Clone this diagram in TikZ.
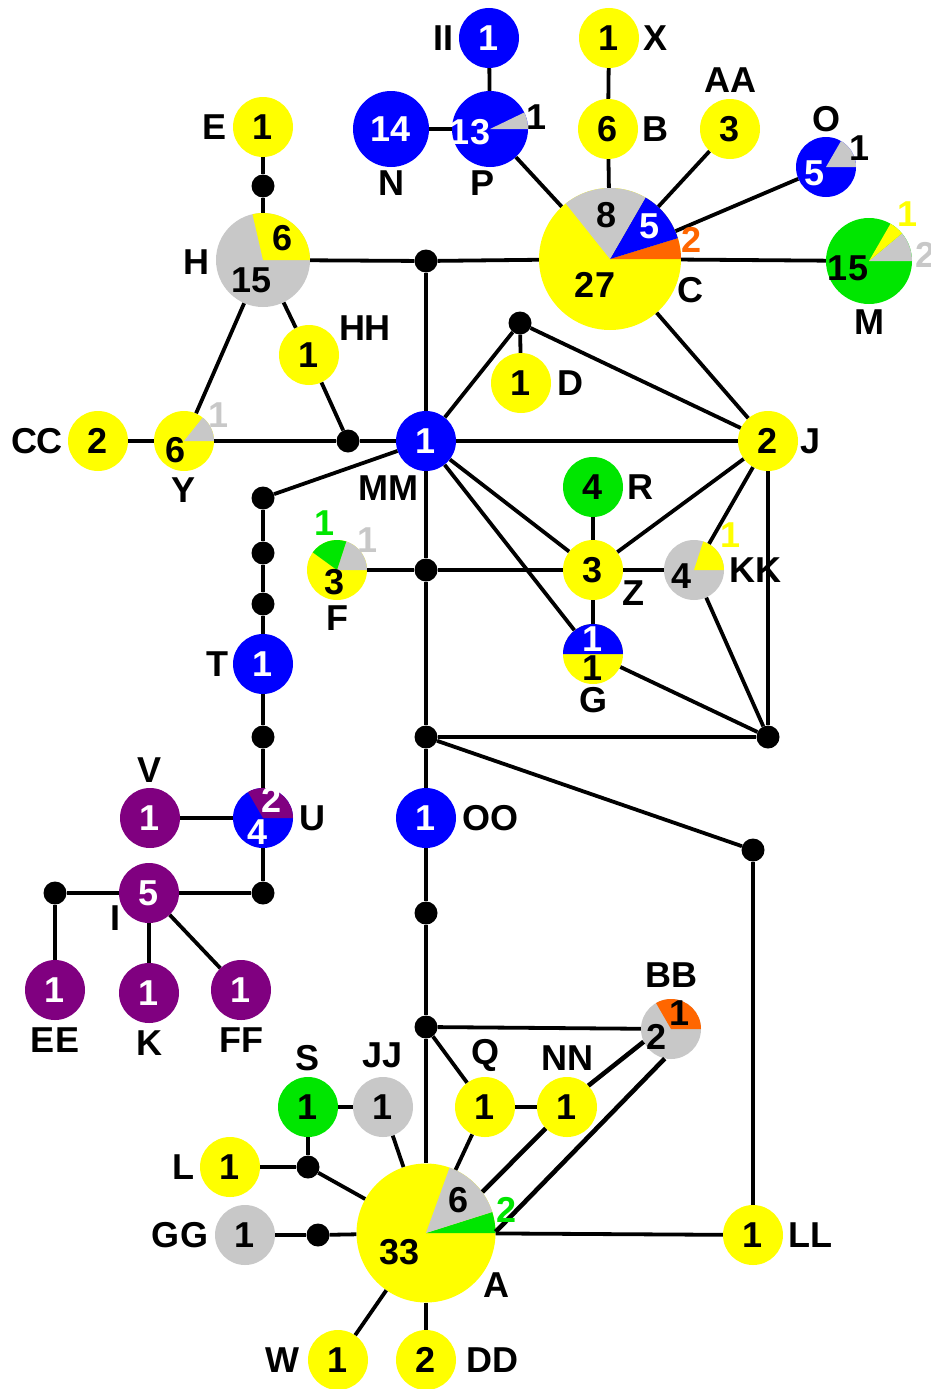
\documentclass[tikz,border=0pt]{standalone}
\usepackage{fontspec}
\setmainfont{Liberation Sans}
\definecolor{hy}{RGB}{255,255,0}
\definecolor{hb}{RGB}{0,0,255}
\definecolor{hg}{RGB}{0,230,0}
\definecolor{hgr}{RGB}{200,200,200}
\definecolor{hp}{RGB}{128,0,128}
\definecolor{ho}{RGB}{255,102,0}
\newcommand\labfont{\fontsize{36}{38}\selectfont\bfseries}
\newcommand\hsec[5]{\fill[#1] (#2) -- ++(#3:#5) arc[start angle=#3,end angle=#4,radius=#5] -- cycle;}
\tikzset{
  hap/.style={circle, inner sep=0pt, minimum size=60pt, font=\labfont},
  yel/.style={hap, fill=hy},
  blu/.style={hap, fill=hb, text=white},
  grn/.style={hap, fill=hg},
  gry/.style={hap, fill=hgr},
  pur/.style={hap, fill=hp, text=white},
  dotn/.style={circle, fill=black, inner sep=0pt, minimum size=23pt},
  edge/.style={line width=3.8pt},
  thickedge/.style={line width=4.6pt},
  lbl/.style={font=\labfont, inner sep=0pt}
}
\begin{document}
\begin{tikzpicture}[x=1pt,y=1pt]
\useasboundingbox (0,0) rectangle (930,-1389);
% haplotype nodes
\node[blu] (II) at (489,-38) {1};
\node[yel] (X) at (609,-38) {1};
\node[blu, minimum size=76pt] (N) at (391,-129) {14};
\node[blu, minimum size=76pt] (P) at (490,-129) {};
\node[yel] (B) at (608,-129) {6};
\node[yel] (AA) at (730,-129) {3};
\node[blu] (O) at (826,-167) {};
\node[yel, minimum size=142pt] (C) at (610,-259) {};
\node[grn, minimum size=86pt] (M) at (869,-261) {};
\node[yel] (E) at (263,-127) {1};
\node[gry, minimum size=94pt] (H) at (263,-260) {};
\node[yel] (HH) at (309,-355) {1};
\node[yel] (Y) at (184,-441) {};
\node[yel] (CC) at (98,-441) {2};
\node[blu] (MM) at (426,-441) {1};
\node[yel] (D) at (521,-383) {1};
\node[yel] (J) at (768,-441) {2};
\node[grn] (R) at (593,-487) {4};
\node[yel] (Z) at (593,-570) {3};
\node[gry] (KK) at (694,-570) {};
\node[yel] (F) at (337,-570) {};
\node[yel] (G) at (593,-654) {};
\node[blu] (T) at (263,-664) {1};
\node[blu] (U) at (263,-818) {};
\node[pur] (V) at (150,-818) {1};
\node[pur] (I) at (149,-893) {5};
\node[pur] (EE) at (55,-990) {1};
\node[pur] (K) at (149,-993) {1};
\node[pur] (FF) at (241,-990) {1};
\node[blu] (OO) at (426,-818) {1};
\node[gry] (BB) at (671,-1029) {};
\node[yel] (Q) at (485,-1107) {1};
\node[yel] (NN) at (567,-1107) {1};
\node[gry] (JJ) at (383,-1107) {1};
\node[grn] (S) at (308,-1107) {1};
\node[yel] (L) at (230,-1167) {1};
\node[gry] (GG) at (245,-1235) {1};
\node[yel, minimum size=139pt] (A) at (426,-1233) {};
\node[yel] (W) at (338,-1360) {1};
\node[yel] (DD) at (426,-1360) {2};
\node[yel] (LL) at (753,-1235) {1};
% pie sectors
\hsec{hgr}{P.center}{0}{25.7}{38pt}
\hsec{hgr}{O.center}{0}{60}{30pt}
\hsec{ho}{C.center}{0}{17.1}{71pt}
\hsec{hb}{C.center}{17.1}{60}{71pt}
\hsec{hgr}{C.center}{60}{128.6}{71pt}
\hsec{hgr}{M.center}{0}{40}{43pt}
\hsec{hy}{M.center}{40}{60}{43pt}
\hsec{hy}{H.center}{0}{102.9}{47pt}
\hsec{hgr}{Y.center}{0}{51.4}{30pt}
\hsec{hy}{KK.center}{0}{72}{30pt}
\hsec{hgr}{F.center}{0}{72}{30pt}
\hsec{hg}{F.center}{72}{144}{30pt}
\hsec{hb}{G.center}{0}{180}{30pt}
\hsec{hp}{U.center}{0}{120}{30pt}
\hsec{ho}{BB.center}{0}{120}{30pt}
\hsec{hg}{A.center}{0}{17.6}{69.5pt}
\hsec{hgr}{A.center}{17.6}{70.2}{69.5pt}
% junction dots
\node[dotn] (d1) at (263,-186) {};
\node[dotn] (d2) at (426,-261) {};
\node[dotn] (d3) at (348,-441) {};
\node[dotn] (d4) at (520,-323) {};
\node[dotn] (d5) at (263,-498) {};
\node[dotn] (d6) at (263,-553) {};
\node[dotn] (d7) at (263,-604) {};
\node[dotn] (d8) at (263,-737) {};
\node[dotn] (d9) at (263,-893) {};
\node[dotn] (d10) at (55,-893) {};
\node[dotn] (d11) at (426,-570) {};
\node[dotn] (d12) at (426,-737) {};
\node[dotn] (d13) at (768,-737) {};
\node[dotn] (d14) at (753,-850) {};
\node[dotn] (d15) at (426,-913) {};
\node[dotn] (d16) at (426,-1027) {};
\node[dotn] (d17) at (308,-1167) {};
\node[dotn] (d18) at (318,-1235) {};
% connectors
\draw[edge] (II) -- (P);
\draw[edge] (N) -- (P);
\draw[edge] (P) -- (C);
\draw[edge] (X) -- (B);
\draw[edge] (B) -- (C);
\draw[edge] (AA) -- (C);
\draw[edge] (O) -- (C);
\draw[edge] (M) -- (C);
\draw[edge] (C) -- (J);
\draw[edge] (E) -- (d1);
\draw[edge] (d1) -- (H);
\draw[edge] (H) -- (d2);
\draw[edge] (d2) -- (C);
\draw[edge] (H) -- (Y);
\draw[edge] (H) -- (HH);
\draw[edge] (HH) -- (d3);
\draw[edge] (CC) -- (Y);
\draw[edge] (Y) -- (d3);
\draw[edge] (d3) -- (MM);
\draw[edge] (MM) -- (J);
\draw[edge] (d2) -- (MM);
\draw[edge] (MM) -- (d4);
\draw[edge] (d4) -- (D);
\draw[edge] (d4) -- (J);
\draw[edge] (MM) -- (Z);
\draw[edge] (MM) -- (G);
\draw[edge] (MM) -- (d5);
\draw[edge] (MM) -- (d11);
\draw[edge] (d11) -- (d12);
\draw[edge] (F) -- (d11);
\draw[edge] (d11) -- (Z);
\draw[edge] (Z) -- (KK);
\draw[edge] (R) -- (Z);
\draw[edge] (Z) -- (G);
\draw[edge] (J) -- (Z);
\draw[edge] (J) -- (KK);
\draw[edge] (J) -- (d13);
\draw[edge] (KK) -- (d13);
\draw[edge] (G) -- (d13);
\draw[edge] (d12) -- (d13);
\draw[edge] (d12) -- (d14);
\draw[edge] (d14) -- (LL);
\draw[edge] (d12) -- (OO);
\draw[edge] (OO) -- (d15);
\draw[edge] (d15) -- (d16);
\draw[edge] (d16) -- (A);
\draw[edge] (d16) -- (BB);
\draw[edge] (d16) -- (Q);
\draw[edge] (Q) -- (NN);
\draw[edge] (Q) -- (A);
\draw[thickedge] (NN.45) -- (BB.205);
\draw[thickedge] (NN.225) -- (A.36);
\draw[thickedge] (BB.258) -- (A.1);
\draw[edge] (JJ) -- (S);
\draw[edge] (JJ) -- (A);
\draw[edge] (S) -- (d17);
\draw[edge] (L) -- (d17);
\draw[edge] (d17) -- (A);
\draw[edge] (GG) -- (d18);
\draw[edge] (d18) -- (A);
\draw[edge] (A) -- (LL);
\draw[edge] (A) -- (W);
\draw[edge] (A) -- (DD);
\draw[edge] (d5) -- (d6);
\draw[edge] (d6) -- (d7);
\draw[edge] (d7) -- (T);
\draw[edge] (T) -- (d8);
\draw[edge] (d8) -- (U);
\draw[edge] (U) -- (d9);
\draw[edge] (V) -- (U);
\draw[edge] (d9) -- (I);
\draw[edge] (I) -- (d10);
\draw[edge] (d10) -- (EE);
\draw[edge] (I) -- (K);
\draw[edge] (I) -- (FF);
% counts inside pies
\node[lbl, text=white] (nP1) at (470,-132) {13};
\node[lbl] (nP2) at (537,-117) {1};
\node[lbl, text=white] (nO1) at (815,-173) {5};
\node[lbl] (nO2) at (859,-148) {1};
\node[lbl] (nC1) at (607,-215) {8};
\node[lbl, text=white] (nC2) at (650,-226) {5};
\node[lbl, text=ho] (nC3) at (692,-240) {2};
\node[lbl] (nC4) at (595,-285) {27};
\node[lbl] (nM1) at (848,-268) {15};
\node[lbl, text=hy] (nM2) at (907,-214) {1};
\node[lbl, text=hgr] (nM3) at (925,-255) {2};
\node[lbl] (nH1) at (283,-238) {6};
\node[lbl] (nH2) at (252,-280) {15};
\node[lbl] (nY1) at (176,-450) {6};
\node[lbl, text=hgr] (nY2) at (219,-415) {1};
\node[lbl] (nKK1) at (682,-576) {4};
\node[lbl, text=hy] (nKK2) at (731,-535) {1};
\node[lbl, text=hg] (nF1) at (325,-523) {1};
\node[lbl, text=hgr] (nF2) at (368,-540) {1};
\node[lbl] (nF3) at (335,-582) {3};
\node[lbl, text=white] (nG1) at (593,-639) {1};
\node[lbl] (nG2) at (593,-668) {1};
\node[lbl, text=white] (nU1) at (272,-800) {2};
\node[lbl, text=white] (nU2) at (258,-832) {4};
\node[lbl] (nBB1) at (680,-1013) {1};
\node[lbl] (nBB2) at (657,-1037) {2};
\node[lbl] (nA1) at (459,-1200) {6};
\node[lbl, text=hg] (nA2) at (507,-1210) {2};
\node[lbl] (nA3) at (400,-1252) {33};
% name labels
\node[lbl] (tII) at (443,-38) {II};
\node[lbl] (tX) at (655,-38) {X};
\node[lbl] (tN) at (391,-183) {N};
\node[lbl] (tP) at (482,-183) {P};
\node[lbl] (tB) at (655,-129) {B};
\node[lbl] (tAA) at (730,-80) {AA};
\node[lbl] (tO) at (826,-119) {O};
\node[lbl] (tC) at (690,-290) {C};
\node[lbl] (tM) at (869,-322) {M};
\node[lbl] (tE) at (215,-127) {E};
\node[lbl] (tH) at (196,-262) {H};
\node[lbl] (tHH) at (365,-328) {HH};
\node[lbl] (tCC) at (37,-441) {CC};
\node[lbl] (tY) at (184,-490) {Y};
\node[lbl] (tMM) at (388,-488) {MM};
\node[lbl] (tD) at (570,-383) {D};
\node[lbl] (tJ) at (811,-441) {J};
\node[lbl] (tR) at (640,-487) {R};
\node[lbl] (tZ) at (633,-593) {Z};
\node[lbl] (tKK) at (755,-570) {KK};
\node[lbl] (tF) at (337,-618) {F};
\node[lbl] (tG) at (593,-700) {G};
\node[lbl] (tT) at (217,-664) {T};
\node[lbl] (tU) at (312,-818) {U};
\node[lbl] (tV) at (150,-770) {V};
\node[lbl] (tI) at (115,-918) {I};
\node[lbl] (tEE) at (55,-1040) {EE};
\node[lbl] (tK) at (149,-1043) {K};
\node[lbl] (tFF) at (241,-1040) {FF};
\node[lbl] (tOO) at (490,-818) {OO};
\node[lbl] (tBB) at (671,-975) {BB};
\node[lbl] (tQ) at (485,-1055) {Q};
\node[lbl] (tNN) at (567,-1058) {NN};
\node[lbl] (tJJ) at (383,-1055) {JJ};
\node[lbl] (tS) at (308,-1058) {S};
\node[lbl] (tL) at (183,-1167) {L};
\node[lbl] (tGG) at (180,-1235) {GG};
\node[lbl] (tA) at (496,-1285) {A};
\node[lbl] (tW) at (282,-1360) {W};
\node[lbl] (tDD) at (492,-1360) {DD};
\node[lbl] (tLL) at (810,-1235) {LL};
\end{tikzpicture}
\end{document}
